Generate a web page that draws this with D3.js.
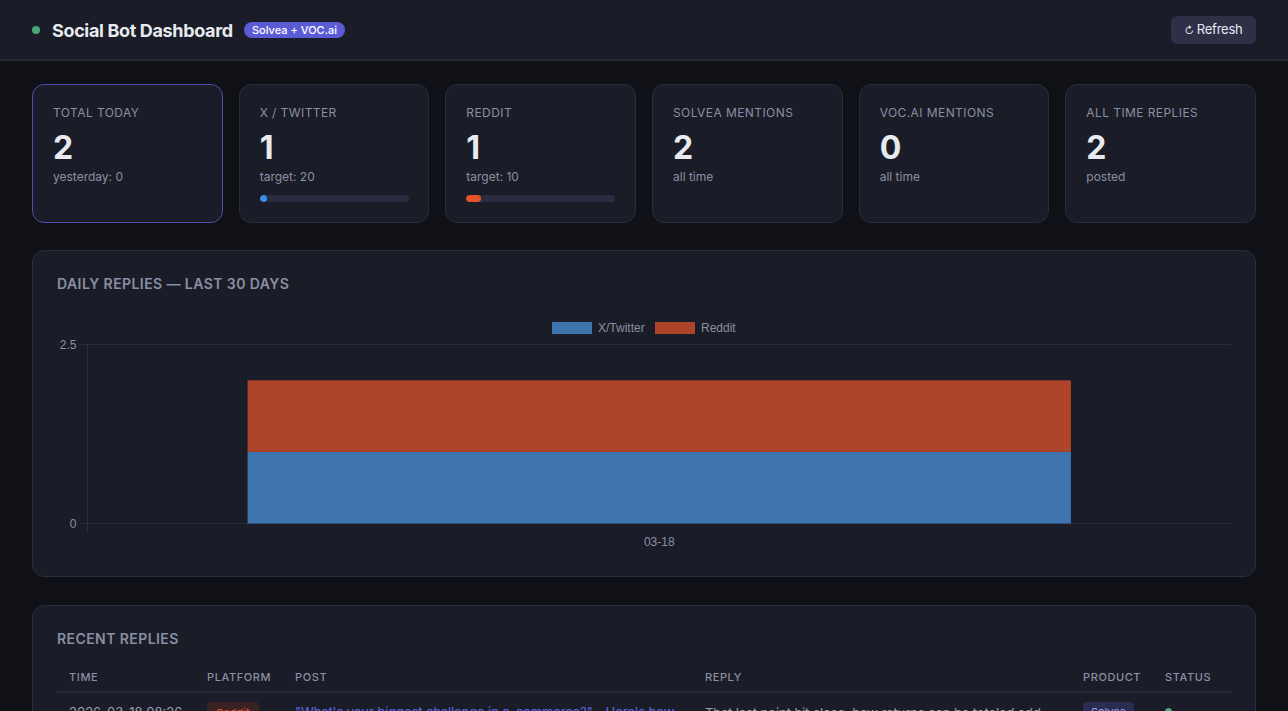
<!DOCTYPE html>
<html>
<head>
<meta charset="utf-8">
<script src="https://cdn.jsdelivr.net/npm/d3@7"></script>
<style>
  * { box-sizing: border-box; margin: 0; padding: 0; }
  html, body { width: 1288px; height: 711px; overflow: hidden; background: #0f1117; font-family: Inter, sans-serif; color: #e8eaf0; }
  .header { position: absolute; left: 0; top: 0; width: 1288px; height: 61px; background: #1a1d27; border-bottom: 2px solid #252836; }
  .dot { position: absolute; left: 32px; top: 26px; width: 8px; height: 8px; border-radius: 50%; background: #48a878; }
  h1 { position: absolute; left: 52px; top: 20px; font-size: 18px; line-height: 22px; font-weight: 700; letter-spacing: -0.35px; white-space: nowrap; }
  .badge { position: absolute; left: 244px; top: 22px; height: 16px; width: 101px; border-radius: 8px; background: #5b5bd6; color: #fff; font-size: 11px; font-weight: 500; line-height: 16px; text-align: center; white-space: nowrap; }
  .refresh { position: absolute; left: 1171px; top: 16px; width: 85px; height: 28px; border-radius: 6px; background: #2e3048; color: #e8eaf0; font-size: 13px; letter-spacing: -0.25px; line-height: 27px; text-align: center; white-space: nowrap; }
  .refresh span { font-size: 10px; margin-right: 3px; }
  .card { position: absolute; top: 84px; width: 190.67px; height: 138.5px; background: #1a1d27; border: 1px solid #2a2d3a; border-radius: 12px; }
  .card.hl { border-color: #4a4fb0; }
  .card .lab { position: absolute; left: 20px; top: 21px; font-size: 12px; line-height: 14px; letter-spacing: 0.42px; color: #8b8fa3; white-space: nowrap; }
  .card .val { position: absolute; left: 20px; top: 44px; font-size: 32px; line-height: 38px; font-weight: 700; color: #e8eaf0; }
  .card .sub { position: absolute; left: 20px; top: 85px; font-size: 12px; line-height: 14px; color: #8b8fa3; white-space: nowrap; }
  .track { position: absolute; left: 20px; top: 110px; width: 149px; height: 7px; border-radius: 4px; background: #2a2d42; overflow: hidden; }
  .fill { height: 100%; border-radius: 4px; }
  .panel { position: absolute; left: 32px; width: 1224px; background: #1a1d27; border: 1px solid #2a2d3a; border-radius: 12px; }
  .panel h2 { position: absolute; left: 24px; font-size: 14px; line-height: 16px; font-weight: 600; letter-spacing: 0.42px; color: #8b8fa3; white-space: nowrap; }
  #chart { position: absolute; left: 0; top: 0; }
  .th { position: absolute; top: 671px; font-size: 11px; line-height: 13px; font-weight: 500; letter-spacing: 0.6px; color: #8b8fa3; white-space: nowrap; }
  .rule { position: absolute; left: 57px; top: 691px; width: 1174px; height: 2px; background: #252836; }
  .td { position: absolute; top: 704px; font-size: 13px; line-height: 16px; white-space: nowrap; }
  .pill { position: absolute; top: 702px; height: 20px; border-radius: 4px; font-size: 11px; text-align: center; }
  .ok { position: absolute; left: 1165px; top: 708px; width: 7px; height: 7px; border-radius: 50%; background: #48a878; }
</style>
</head>
<body>
<script>
// values
const days = ['03-18'];
const twitterReplies = [1];
const redditReplies = [1];
const yTicks = [0, 2.5];
const seriesNames = ['X/Twitter', 'Reddit'];
const seriesColors = ['#3d74ae', '#ae4429'];

const cardLabels = ['TOTAL TODAY', 'X / TWITTER', 'REDDIT', 'SOLVEA MENTIONS', 'VOC.AI MENTIONS', 'ALL TIME REPLIES'];
const cardValues = [2, 1, 1, 2, 0, 2];
const cardSubs = ['yesterday: 0', 'target: 20', 'target: 10', 'all time', 'all time', 'posted'];
const cardTargets = [null, 20, 10, null, null, null];
const cardBarColors = [null, '#3b8eea', '#e8522a', null, null, null];

const tableHeads = ['TIME', 'PLATFORM', 'POST', 'REPLY', 'PRODUCT', 'STATUS'];
const tableHeadX = [69, 207, 295, 705, 1083, 1165];

const body = d3.select('body');

// header
const header = body.append('div').attr('class', 'header');
header.append('div').attr('class', 'dot');
header.append('h1').text('Social Bot Dashboard');
header.append('div').attr('class', 'badge').text('Solvea + VOC.ai');
header.append('div').attr('class', 'refresh').html('<span>↻</span>Refresh');

// stat cards
const cardX = d3.scaleBand().domain(d3.range(cardLabels.length)).range([32, 1272]);
cardLabels.forEach((label, i) => {
  const card = body.append('div')
    .attr('class', i === 0 ? 'card hl' : 'card')
    .style('left', cardX(i) + 'px');
  card.append('div').attr('class', 'lab').text(label);
  card.append('div').attr('class', 'val').text(cardValues[i]);
  card.append('div').attr('class', 'sub').text(cardSubs[i]);
  if (cardTargets[i]) {
    card.append('div').attr('class', 'track')
      .append('div').attr('class', 'fill')
      .style('width', (cardValues[i] / cardTargets[i] * 100) + '%')
      .style('background', cardBarColors[i]);
  }
});

// chart panel
body.append('div').attr('class', 'panel')
  .style('top', '250px').style('height', '327px')
  .append('h2').style('top', '25px').text('DAILY REPLIES — LAST 30 DAYS');

const svg = body.append('svg').attr('id', 'chart').attr('width', 1288).attr('height', 711);

const x = d3.scaleBand().domain(days).range([87.5, 1231]).paddingInner(0.28).paddingOuter(0.14);
const y = d3.scaleLinear().domain([0, 2.5]).range([523.5, 344.5]);

const gridColor = '#2a2d42';
const labelColor = '#8b8fa3';
const chartFont = '"Liberation Sans", sans-serif';

// gridlines, with the tick stubs to the left of the y axis
svg.append('g').selectAll('line').data(yTicks).enter().append('line')
  .attr('x1', 80).attr('x2', 1231)
  .attr('y1', d => y(d)).attr('y2', d => y(d))
  .attr('stroke', gridColor);

svg.append('line')
  .attr('x1', 87.5).attr('x2', 87.5)
  .attr('y1', y(2.5)).attr('y2', y(0) + 8)
  .attr('stroke', gridColor);

svg.append('g').selectAll('text').data(yTicks).enter().append('text')
  .attr('x', 76.5).attr('y', d => y(d) + 4)
  .attr('text-anchor', 'end')
  .style('font-family', chartFont)
  .style('font-size', '12px')
  .attr('fill', labelColor)
  .text(d => d);

svg.append('g').selectAll('text').data(days).enter().append('text')
  .attr('x', d => x(d) + x.bandwidth() / 2).attr('y', 546)
  .attr('text-anchor', 'middle')
  .style('font-family', chartFont)
  .style('font-size', '12px')
  .attr('fill', labelColor)
  .text(d => d);

// stacked bars
const rows = days.map((d, i) => ({ day: d, twitter: twitterReplies[i], reddit: redditReplies[i] }));
const stacked = d3.stack().keys(['twitter', 'reddit'])(rows);

svg.append('g').selectAll('g').data(stacked).enter().append('g')
  .attr('fill', (d, i) => seriesColors[i])
  .selectAll('rect').data(d => d).enter().append('rect')
  .attr('x', d => x(d.data.day))
  .attr('width', x.bandwidth())
  .attr('y', d => y(d[1]))
  .attr('height', d => y(d[0]) - y(d[1]));

// legend
const legendX = d3.scaleOrdinal().domain(seriesNames).range([552, 655]);
const legend = svg.append('g').selectAll('g').data(seriesNames).enter().append('g')
  .attr('transform', d => `translate(${legendX(d)},322)`);
legend.append('rect')
  .attr('width', 40).attr('height', 12)
  .attr('fill', (d, i) => seriesColors[i]);
legend.append('text')
  .attr('x', 46).attr('y', 10)
  .style('font-family', chartFont)
  .style('font-size', '12px')
  .attr('fill', labelColor)
  .text(d => d);

// recent replies panel, cut off by the bottom of the window
body.append('div').attr('class', 'panel')
  .style('top', '605px').style('height', '200px')
  .append('h2').style('top', '25px').text('RECENT REPLIES');

tableHeads.forEach((head, i) => {
  body.append('div').attr('class', 'th').style('left', tableHeadX[i] + 'px').text(head);
});
body.append('div').attr('class', 'rule');

body.append('div').attr('class', 'td').style('left', '69px').style('color', '#9aa0b0').text('2026-03-18 08:26');
body.append('div').attr('class', 'pill')
  .style('left', '207px').style('width', '52px').style('line-height', '22px')
  .style('background', '#3a2122').style('color', '#e8522a').text('Reddit');
body.append('div').attr('class', 'td').style('left', '295px').style('color', '#6464e6').style('letter-spacing', '-0.1px')
  .text('"What\'s your biggest challenge in e-commerce?" - Here\'s how');
body.append('div').attr('class', 'td').style('left', '705px').style('top', '705px').style('color', '#9aa0b0').style('letter-spacing', '-0.1px')
  .text('That last point hit close, how returns can be totaled add');
body.append('div').attr('class', 'pill')
  .style('left', '1083px').style('width', '51px').style('line-height', '20px')
  .style('background', '#2a2d52').style('color', '#a0a4e8').text('Solvea');
body.append('div').attr('class', 'ok');
</script>
</body>
</html>
